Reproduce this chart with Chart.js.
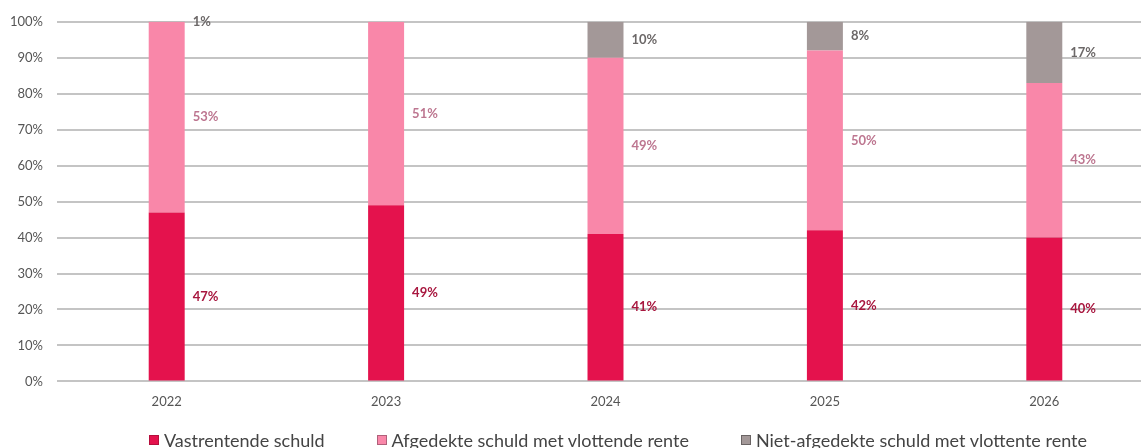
<!DOCTYPE html>
<html>
<head>
<meta charset="utf-8">
<script src="https://cdn.jsdelivr.net/npm/chart.js@4"></script>
<style>
  html, body { margin: 0; padding: 0; background: #fff; overflow: hidden; }
  #wrap { position: absolute; left: 0; top: 0; width: 1154px; height: 448px; }
  #legend {
    position: absolute; left: 149px; top: 429px; width: 938px;
    display: flex; justify-content: space-between; align-items: center;
    font-family: Lato, "Open Sans", sans-serif; font-size: 18px; color: #444;
    line-height: 22px; white-space: nowrap;
  }
  #legend .item { display: flex; align-items: center; }
  #legend .box { width: 8px; height: 8px; margin-right: 5px; border: 1px solid; }
</style>
</head>
<body>
<div id="wrap"><canvas id="chart"></canvas></div>
<div id="legend"></div>
<script>
// jaren en aandelen (%) per schuldsoort
var years = ['2022', '2023', '2024', '2025', '2026'];
var vastrentend = [47, 49, 41, 42, 40];
var afgedekt = [53, 51, 49, 50, 43];
var nietAfgedekt = [1, 0, 10, 8, 17];
var yTicks = ['0%', '10%', '20%', '30%', '40%', '50%', '60%', '70%', '80%', '90%', '100%'];

var fontFamily = 'Lato, "Open Sans", sans-serif';

// labels rechts naast elk segment, midden van het segment
var segmentLabels = {
  id: 'segmentLabels',
  afterDatasetsDraw: function(chart) {
    var ctx = chart.ctx;
    ctx.save();
    ctx.font = 'bold 13px ' + fontFamily;
    ctx.textBaseline = 'middle';
    ctx.textAlign = 'left';
    chart.data.datasets.forEach(function(ds, i) {
      var meta = chart.getDatasetMeta(i);
      meta.data.forEach(function(bar, j) {
        var v = ds.data[j];
        if (!v) return;
        var top = Math.max(bar.y, chart.chartArea.top);
        var mid = (top + bar.base) / 2;
        ctx.fillStyle = ds.labelColor;
        ctx.fillText(v + '%', bar.x + bar.width / 2 + 8, mid);
      });
    });
    ctx.restore();
  }
};

var chart = new Chart(document.getElementById('chart'), {
  type: 'bar',
  data: {
    labels: years,
    datasets: [{
      label: 'Vastrentende schuld',
      data: vastrentend,
      backgroundColor: '#e4124d',
      borderEdge: '#b50f3d',
      labelColor: '#a8173f'
    }, {
      label: 'Afgedekte schuld met vlottende rente',
      data: afgedekt,
      backgroundColor: '#f987a9',
      borderEdge: '#b0607a',
      labelColor: '#bd7690'
    }, {
      label: 'Niet-afgedekte schuld met vlottente rente',
      data: nietAfgedekt,
      backgroundColor: '#a39898',
      borderEdge: '#6a6464',
      labelColor: '#6c6868'
    }]
  },
  options: {
    responsive: true,
    maintainAspectRatio: false,
    animation: false,
    categoryPercentage: 1,
    barPercentage: 0.164,
    layout: { padding: { top: 14, right: 0, left: 0, bottom: 33 } },
    plugins: {
      tooltip: { enabled: false },
      legend: { display: false }
    },
    scales: {
      x: {
        stacked: true,
        grid: { display: false },
        border: { display: false },
        ticks: { color: '#555', padding: 5, font: { family: fontFamily, size: 13 } }
      },
      y: {
        stacked: true,
        min: 0,
        max: 100,
        afterFit: function(scale) { scale.width = 57; },
        grid: { color: '#c4c4c4', lineWidth: 2, drawTicks: false },
        border: { display: false },
        ticks: {
          stepSize: 10,
          padding: 14,
          color: '#555',
          font: { family: fontFamily, size: 13 },
          callback: function(value) { return yTicks[value / 10]; }
        }
      }
    }
  },
  plugins: [segmentLabels]
});

// legenda onder de grafiek, opgebouwd uit de datasets
var legend = document.getElementById('legend');
chart.data.datasets.forEach(function(ds) {
  var item = document.createElement('div');
  item.className = 'item';
  var box = document.createElement('span');
  box.className = 'box';
  box.style.background = ds.backgroundColor;
  box.style.borderColor = ds.borderEdge;
  var text = document.createElement('span');
  text.textContent = ds.label;
  item.appendChild(box);
  item.appendChild(text);
  legend.appendChild(item);
});
</script>
</body>
</html>
